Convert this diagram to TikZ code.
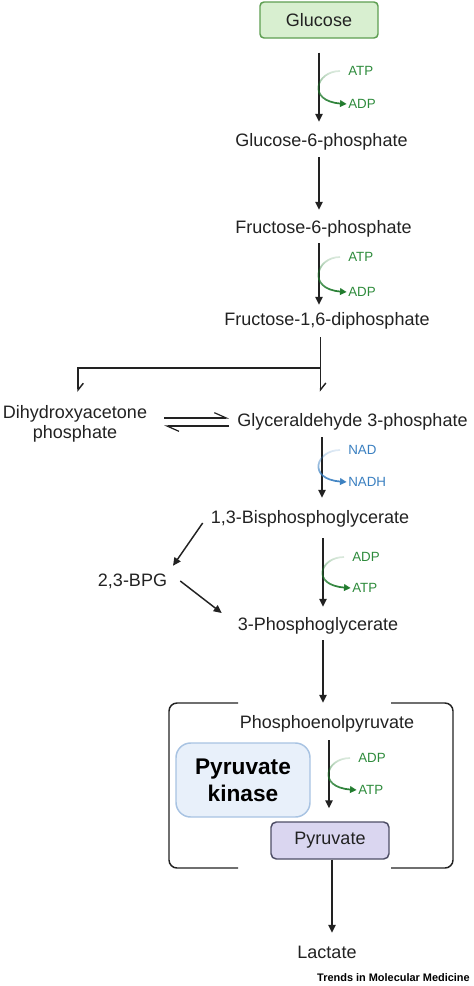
\documentclass[tikz,border=0pt]{standalone}
\usepackage{fontspec}
\setmainfont{Liberation Sans}
\usetikzlibrary{arrows.meta,fadings}
\definecolor{ink}{HTML}{222222}
\definecolor{cogreen}{HTML}{2E8B3C}
\definecolor{cocurve}{HTML}{1F7A2C}
\definecolor{coblue}{HTML}{3A7FC0}
\definecolor{glcfill}{HTML}{D8EFD0}
\definecolor{glcdraw}{HTML}{5E9E52}
\definecolor{pkfill}{HTML}{E8F0FA}
\definecolor{pkdraw}{HTML}{A8C3E2}
\definecolor{pyrfill}{HTML}{DAD6F0}
\definecolor{pyrdraw}{HTML}{4E4E66}
\tikzfading[name=cofade, top color=transparent!85, middle color=transparent!0, bottom color=transparent!0]
\begin{document}
\begin{tikzpicture}[x=0.75pt,y=-0.75pt,
  metab/.style={inner sep=0pt, text height=9.7pt, text depth=0pt, font=\fontsize{13.5}{16}\selectfont, text=ink},
  cof/.style={inner sep=0pt, anchor=west, text height=7.2pt, text depth=0pt, font=\fontsize{10}{12}\selectfont},
  arr/.style={draw=ink, line width=1.1pt, -{Triangle[length=6pt,width=5.5pt]}},
  halfarr/.style={draw=ink, line width=1.1pt, -{Straight Barb[left,length=5pt,width=8pt]}},
  harp/.style={draw=ink, line width=0.9pt, -{Straight Barb[left,length=9pt,width=8pt]}},
  curv/.style={line width=1.3pt, -{Triangle[length=5pt,width=5pt]}, path fading=cofade},
  bracket/.style={draw=ink, line width=1.1pt, rounded corners=6pt},
  ]
\useasboundingbox (0,0) rectangle (474,986);

% boxes
\node[draw=glcdraw, fill=glcfill, line width=1.1pt, rounded corners=3pt, minimum width=88.5pt, minimum height=27pt, inner sep=0pt, font=\fontsize{13.5}{16}\selectfont, text=ink] (glc) at (319,20) {Glucose};
\node[draw=pkdraw, fill=pkfill, line width=1.1pt, rounded corners=11pt, minimum width=100.5pt, minimum height=55.5pt, inner sep=0pt, align=center, font=\fontsize{17}{20}\bfseries\selectfont, text=black] (pk) at (243,780) {Pyruvate\\kinase};
\node[draw=pyrdraw, fill=pyrfill, line width=1.1pt, rounded corners=4pt, minimum width=88.5pt, minimum height=27.75pt, inner sep=0pt, font=\fontsize{13.5}{16}\selectfont, text=ink] (pyr) at (330,840.5) {Pyruvate};

% metabolites
\node[metab] (g6p) at (321.5,140) {Glucose-6-phosphate};
\node[metab] (f6p) at (323.5,227) {Fructose-6-phosphate};
\node[metab] (f16) at (327,319) {Fructose-1,6-diphosphate};
\node[inner sep=0pt, anchor=north, align=center, font=\fontsize{13.5}{15}\selectfont, text=ink] (dhap) at (75,405.5) {Dihydroxyacetone\\phosphate};
\node[metab] (gap) at (352.5,420) {Glyceraldehyde 3-phosphate};
\node[metab] (bpg) at (310,517) {1,3-Bisphosphoglycerate};
\node[metab] (bpg23) at (132.5,580) {2,3-BPG};
\node[metab] (pg3) at (318,624) {3-Phosphoglycerate};
\node[metab] (pep) at (327,722) {Phosphoenolpyruvate};
\node[metab] (lac) at (327,952) {Lactate};

% cofactors
\node[cof, text=cogreen] (atp1) at (348,71) {ATP};
\node[cof, text=cogreen] (adp1) at (348,104) {ADP};
\node[cof, text=cogreen] (atp2) at (348,257) {ATP};
\node[cof, text=cogreen] (adp2) at (348,292) {ADP};
\node[cof, text=coblue] (nad) at (348,450) {NAD};
\node[cof, text=coblue] (nadh) at (348,482) {NADH};
\node[cof, text=cogreen] (adp3) at (352,557) {ADP};
\node[cof, text=cogreen] (atp3) at (352,588) {ATP};
\node[cof, text=cogreen] (adp4) at (358,758) {ADP};
\node[cof, text=cogreen] (atp4) at (358,790) {ATP};

% brackets
\draw[bracket] (238,703) -- (169,703) -- (169,868) -- (238,868);
\draw[bracket] (391,703) -- (453,703) -- (453,868) -- (391,868);

% main arrows
\draw[arr] ([yshift=-10.5pt]glc.south) -- ([xshift=-1.875pt,yshift=8.625pt]g6p.north);
\draw[arr] ([xshift=-1.875pt,yshift=-7.875pt]g6p.south) -- ([xshift=-3.375pt,yshift=7.875pt]f6p.north);
\draw[arr] ([xshift=-3.375pt,yshift=-7.125pt]f6p.south) -- ([xshift=-6pt,yshift=5.625pt]f16.north);
\draw[halfarr] ([xshift=-4.875pt,yshift=-8.625pt]f16.south) -- ([xshift=-24pt,yshift=16.125pt]gap.north);
\coordinate (fork) at (320.5,368);
\draw[halfarr] (fork) -| ([xshift=2.25pt,yshift=10.125pt]dhap.north);
\draw[harp] ([xshift=-54.75pt,yshift=1.5pt]gap.west) -- ([xshift=-6pt,yshift=1.5pt]gap.west);
\draw[harp] ([xshift=-6pt,yshift=-4.5pt]gap.west) -- ([xshift=-54.75pt,yshift=-4.5pt]gap.west);
\draw[arr] ([xshift=-22.875pt,yshift=-7.875pt]gap.south) -- ([xshift=9pt,yshift=9.375pt]bpg.north);
\draw[arr] ([xshift=-6pt,yshift=-4.5pt]bpg.west) -- ([xshift=30.375pt,yshift=5.625pt]bpg23.north);
\draw[arr] ([xshift=9.75pt,yshift=-0.75pt]bpg23.east) -- ([xshift=-12pt,yshift=8.25pt]pg3.west);
\draw[arr] ([xshift=9.75pt,yshift=-10.875pt]bpg.south) -- ([xshift=3.75pt,yshift=7.875pt]pg3.north);
\draw[arr] ([xshift=3.75pt,yshift=-7.125pt]pg3.south) -- ([xshift=-3pt,yshift=9.375pt]pep.north);
\draw[arr] ([xshift=1.5pt,yshift=-8.625pt]pep.south) -- ([xshift=-0.75pt,yshift=9.75pt]pyr.north);
\draw[arr] ([xshift=1.5pt]pyr.south) -- ([xshift=3.75pt,yshift=9.375pt]lac.north);

% cofactor curves
\draw[curv, draw=cocurve] ([xshift=-6pt]atp1.west) .. controls +(-24,0) and +(-40,-3) .. ([xshift=-1pt]adp1.west);
\draw[curv, draw=cocurve] ([xshift=-6pt]atp2.west) .. controls +(-24,0) and +(-40,-3) .. ([xshift=-1pt]adp2.west);
\draw[curv, draw=coblue] ([xshift=-6pt]nad.west) .. controls +(-24,0) and +(-40,-3) .. ([xshift=-1pt]nadh.west);
\draw[curv, draw=cocurve] ([xshift=-6pt]adp3.west) .. controls +(-24,0) and +(-40,-3) .. ([xshift=-1pt]atp3.west);
\draw[curv, draw=cocurve] ([xshift=-6pt]adp4.west) .. controls +(-24,0) and +(-40,-3) .. ([xshift=-1pt]atp4.west);

\node[anchor=east, inner sep=0pt, font=\fontsize{8.2}{10}\bfseries\selectfont, text=black] (credit) at (470,978) {Trends in Molecular Medicine};
\end{tikzpicture}
\end{document}
